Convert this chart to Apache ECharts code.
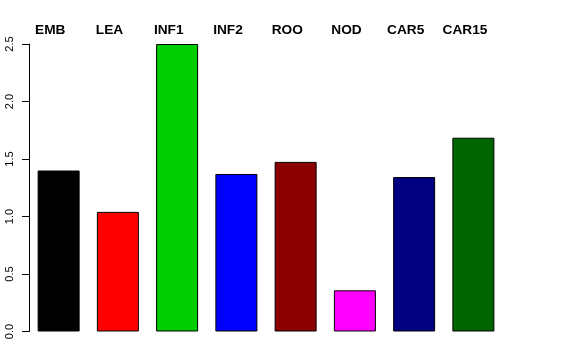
<!DOCTYPE html>
<html>
<head>
<meta charset="utf-8">
<script src="https://cdn.jsdelivr.net/npm/echarts@6/dist/echarts.min.js"></script>
<style>html,body{margin:0;padding:0;background:#fff}#c{width:576px;height:360px}</style>
</head>
<body>
<div id="c"></div>
<script>
const categories = ['EMB', 'LEA', 'INF1', 'INF2', 'ROO', 'NOD', 'CAR5', 'CAR15'];
const values = [1.40, 1.04, 2.50, 1.37, 1.475, 0.358, 1.343, 1.685];
const colors = ['#000000', '#FF0000', '#00CD00', '#0000FF', '#8B0000', '#FF00FF', '#000080', '#006400'];
const yTicks = [0, 0.5, 1.0, 1.5, 2.0, 2.5];

const FONT = 'Liberation Sans, Arial, Helvetica, sans-serif';
const chart = echarts.init(document.getElementById('c'), null, {renderer: 'canvas'});

chart.setOption({
  animation: false,
  backgroundColor: '#fff',
  grid: {left: 29, right: 73, top: 44, bottom: 28.5, containLabel: false},
  xAxis: {
    type: 'category',
    data: categories,
    boundaryGap: true,
    axisLine: {show: false},
    axisTick: {show: false},
    axisLabel: {show: false},
    splitLine: {show: false}
  },
  yAxis: {
    type: 'value',
    min: yTicks[0],
    max: yTicks[yTicks.length - 1],
    interval: 0.5,
    axisLine: {show: true, lineStyle: {color: '#000', width: 1}},
    axisTick: {show: true, length: 7, lineStyle: {color: '#000', width: 1}},
    splitLine: {show: false},
    axisLabel: {
      rotate: 90,
      margin: 14,
      color: '#000',
      fontSize: 11,
      fontFamily: FONT,
      formatter: v => v.toFixed(1)
    }
  },
  series: [{
    type: 'bar',
    barWidth: 42,
    data: values.map((v, i) => ({
      value: v,
      itemStyle: {color: colors[i], borderColor: '#000', borderWidth: 1}
    }))
  }]
});

// Category names written above the plot, placed from the category axis
const topLabels = categories.map(c => ({
  type: 'text',
  x: chart.convertToPixel({xAxisIndex: 0}, c) - 8.4,
  y: 30.2,
  style: {
    text: c,
    fill: '#000',
    font: 'bold 13.7px ' + FONT,
    textAlign: 'center',
    textVerticalAlign: 'middle'
  }
}));
chart.setOption({graphic: topLabels});
</script>
</body>
</html>
